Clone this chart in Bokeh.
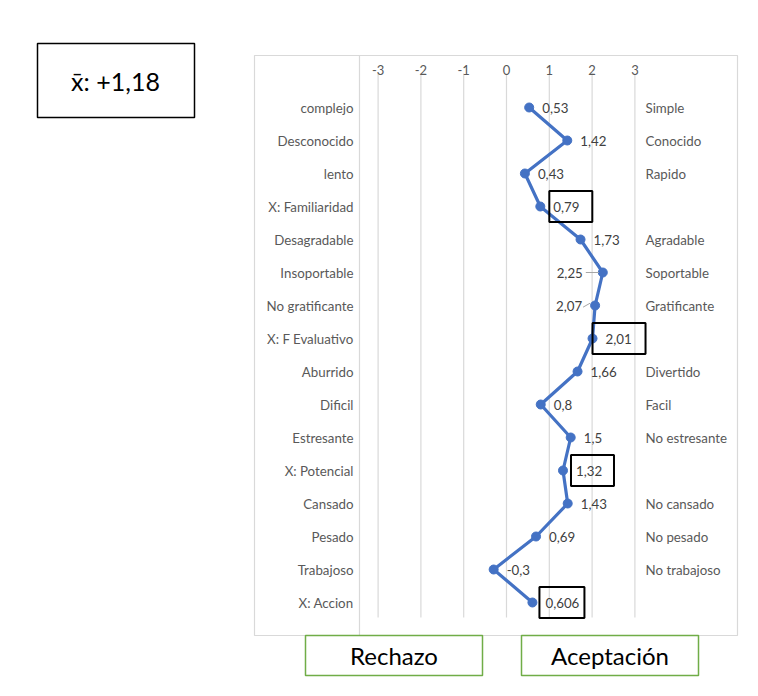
from bokeh.plotting import figure
from bokeh.models import Range1d
from bokeh.core.properties import value
from bokeh.embed import file_html
from bokeh.resources import INLINE

# ---------------- data ----------------
left_labels = ["complejo", "Desconocido", "lento", "X: Familiaridad", "Desagradable",
               "Insoportable", "No gratificante", "X: F Evaluativo", "Aburrido", "Dificil",
               "Estresante", "X: Potencial", "Cansado", "Pesado", "Trabajoso", "X: Accion"]
right_labels = ["Simple", "Conocido", "Rapido", "", "Agradable", "Soportable", "Gratificante",
                "", "Divertido", "Facil", "No estresante", "", "No cansado", "No pesado",
                "No trabajoso", ""]
values = [0.53, 1.42, 0.43, 0.79, 1.73, 2.25, 2.07, 2.01, 1.66, 0.8, 1.5, 1.32, 1.43,
          0.69, -0.3, 0.606]
value_texts = ["0,53", "1,42", "0,43", "0,79", "1,73", "2,25", "2,07", "2,01", "1,66",
               "0,8", "1,5", "1,32", "1,43", "0,69", "-0,3", "0,606"]
boxed = [3, 7, 11, 15]           # factor means shown in boxes
left_side = [5, 6]               # labels placed left of their point
ticks = [-3, -2, -1, 0, 1, 2, 3]
tick_labels = ["-3", "-2", "-1", "0", "1", "2", "3"]
mean_text = "x\u0304: +1,18"
bottom_texts = ["Rechazo", "Aceptación"]

# ---------------- layout constants ----------------
W, H = 742, 680
SC = 42.8        # px per unit
X0 = 506         # canvas x of value 0
ROW0, ROWH = 107, 33

def dx(px):
    return px / SC

def xc(canvas_x):
    return (canvas_x - X0) / SC

def yc(canvas_y):
    return (canvas_y - ROW0) / ROWH

FONT = "Lato"
GRAY = "#595959"
GRID = "#d9d9d9"
BLUE = "#4472C4"

p = figure(width=W, height=H, output_backend="svg", toolbar_location=None,
           x_range=Range1d(xc(0), xc(W)), y_range=Range1d(yc(H), yc(0)),
           x_axis_location=None, y_axis_location=None, min_border=0)
p.grid.visible = False
p.outline_line_color = None
p.background_fill_color = "white"

rows = list(range(len(values)))

# outer chart border and separator
p.quad(left=[xc(254)], right=[xc(737)], top=[yc(55)], bottom=[yc(635)],
       fill_color=None, line_color=GRID, line_width=1.2)
p.segment(x0=[xc(359)], x1=[xc(359)], y0=[yc(55)], y1=[yc(635)], line_color=GRID, line_width=1.2)

# gridlines
p.segment(x0=ticks, x1=ticks, y0=[yc(73)] * len(ticks), y1=[yc(617)] * len(ticks),
          line_color=GRID, line_width=1.2)

# tick labels on top
p.text(x=ticks, y=[yc(69)] * len(ticks), text=tick_labels, text_align="center",
       text_baseline="middle", text_font=value(FONT), text_font_size="13px",
       text_color=GRAY)

# left and right labels
p.text(x=[xc(353)] * len(rows), y=rows, text=left_labels, text_align="right",
       text_baseline="middle", text_font=value(FONT), text_font_size="13.3px",
       text_color=GRAY)
p.text(x=[xc(645)] * len(rows), y=rows, text=right_labels, text_align="left",
       text_baseline="middle", text_font=value(FONT), text_font_size="13.3px",
       text_color=GRAY)

# profile line
p.line(x=values, y=rows, line_color=BLUE, line_width=3.2)
p.scatter(x=values, y=rows, size=9, fill_color=BLUE, line_color=BLUE)

# value labels
rv = [i for i in rows if i not in left_side]
lv = [i for i in rows if i in left_side]
p.text(x=[values[i] for i in rv], y=rv, text=[value_texts[i] for i in rv],
       x_offset=13, text_align="left", text_baseline="middle", text_font=value(FONT),
       text_font_size="13.3px", text_color="#404040")
p.text(x=[values[i] for i in lv], y=lv, text=[value_texts[i] for i in lv],
       x_offset=[-20, -13], text_align="right", text_baseline="middle",
       text_font=value(FONT), text_font_size="13.3px", text_color="#404040")
# leader lines
p.segment(x0=[values[5] - dx(17), values[6] - dx(12)], x1=[values[5] - dx(4), values[6] - dx(5)],
          y0=[5, 6.05], y1=[5, 5.93], line_color="#a6a6a6", line_width=1)

# boxes around factor means
box_off = {3: 9, 7: 0, 11: 8, 15: 7}
box_w = {3: 43, 7: 53, 11: 43, 15: 45}
p.quad(left=[values[i] + dx(box_off[i]) for i in boxed],
       right=[values[i] + dx(box_off[i] + box_w[i]) for i in boxed],
       top=[i - 15.5 / ROWH for i in boxed], bottom=[i + 15.5 / ROWH for i in boxed],
       fill_color=None, line_color="black", line_width=2)

# mean box
p.quad(left=[xc(37)], right=[xc(194)], top=[yc(43)], bottom=[yc(117)],
       fill_color=None, line_color="black", line_width=1.5)
p.text(x=[xc(115)], y=[yc(80)], text=[mean_text], text_align="center",
       text_baseline="middle", text_font=value(FONT), text_font_size="25px",
       text_color="black")

# bottom boxes
p.quad(left=[xc(305), xc(521)], right=[xc(482), xc(698)], top=[yc(635), yc(635)],
       bottom=[yc(675), yc(675)], fill_color=None, line_color="#70AD47", line_width=1.5)
p.text(x=[xc(393.5), xc(609.5)], y=[yc(655), yc(655)], text=bottom_texts,
       text_align="center", text_baseline="middle", text_font=value(FONT),
       text_font_size="24px", text_color="black")

open("out.html", "w").write(file_html(p, INLINE))
